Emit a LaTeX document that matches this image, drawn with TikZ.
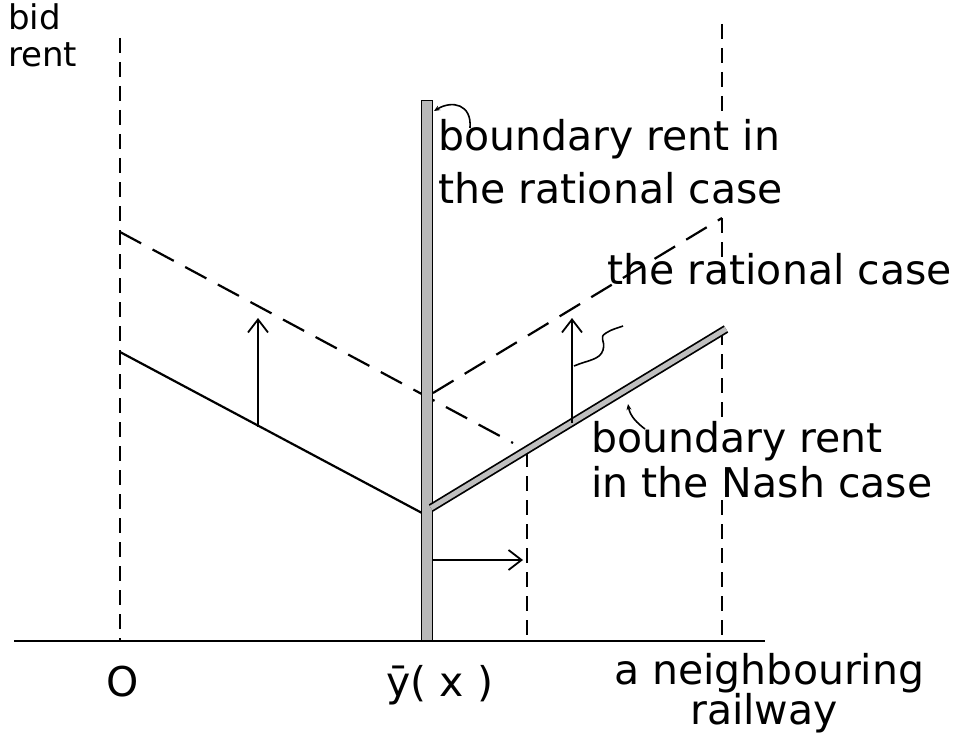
\documentclass[tikz,border=0pt]{standalone}
\usepackage{fontspec}
\setmainfont{DejaVu Sans}
\usetikzlibrary{arrows.meta}
\begin{document}
\begin{tikzpicture}[x=1pt,y=-1pt,
  lbl/.style={font=\fontsize{41}{50}\selectfont, inner sep=0pt, anchor=base west},
  solidln/.style={line width=2.2pt, line cap=round},
  dashln/.style={line width=2.2pt, dash pattern=on 24pt off 13pt},
  vdashln/.style={line width=2pt, dash pattern=on 15pt off 9pt},
  arr/.style={line width=1.8pt, -{Straight Barb[length=13pt,width=20pt,line width=1.8pt]}},
  lead/.style={line width=1.6pt},
  barstyle/.style={fill=gray!55, draw=black, line width=1.4pt}]
\useasboundingbox (0,0) rectangle (969,733);

% coordinates
\coordinate (axL) at (14,641);
\coordinate (axR) at (765,641);
\coordinate (vlT) at (120,38);
\coordinate (vlB) at (120,641);
\coordinate (vmT) at (527,452);
\coordinate (vmB) at (527,641);
\coordinate (sL) at (120,352);
\coordinate (sR) at (422,513);
\coordinate (dL) at (120,232);
\coordinate (dM) at (513,443);
\coordinate (dR0) at (433,393);
\coordinate (dR1) at (722,218);
\coordinate (nL) at (431,508);
\coordinate (nR) at (726,329);

% axis
\draw[line width=2.2pt] (axL) -- (axR);

% dashed verticals
\draw[vdashln] (vlT) -- (vlB);
\draw[vdashln] (vmT) -- (vmB);
\draw[vdashln] (722,24) -- (722,112);
\draw[vdashln] (722,218) -- (722,278);
\draw[vdashln] (722,330) -- (722,420);
\draw[vdashln] (722,500) -- (722,641);

% bid-rent lines
\draw[solidln] (sL) -- (sR);
\draw[dashln] (dL) -- (dM);
\draw[dashln] (dR0) -- (dR1);

% boundary bar
\node[barstyle, minimum width=11pt, minimum height=540pt, inner sep=0pt, anchor=south] (bar) at (427,641) {};

% Nash boundary rent line
\draw[line width=8.5pt, line cap=butt] (nL) -- (nR);
\draw[line width=5pt, gray!50, line cap=butt] (nL) -- (nR);

% arrows
\coordinate (a1t) at (258,427);
\coordinate (a1h) at (258,318);
\coordinate (a2t) at (572,423);
\coordinate (a2h) at (572,318);
\coordinate (a3t) at (433,560);
\coordinate (a3h) at (523,560);
\draw[arr] (a1t) -- (a1h);
\draw[arr] (a2t) -- (a2h);
\draw[arr] (a3t) -- (a3h);

% labels
\node[font=\fontsize{34}{37}\selectfont, inner sep=0pt, align=left, anchor=north west] (bidrent) at (8,3) {bid\\rent};
\node[lbl] (br1) at (438,150) {boundary rent in};
\node[lbl] (br2) at (438,203) {the rational case};
\node[lbl] (rc) at (607,284) {the rational case};
\node[lbl] (nc1) at (591,452) {boundary rent};
\node[lbl] (nc2) at (591,497) {in the Nash case};
\node[lbl, anchor=base] (zero) at (123,696) {O};
\node[lbl, anchor=base] (ybar) at (440,696) {ȳ( x )};
\node[lbl] (nb1) at (614,684) {a neighbouring};
\node[lbl, anchor=base] (nb2) at (764,724) {railway};

% leaders
\coordinate (l1a) at (434,111);
\coordinate (l1b) at (470,128);
\draw[lead, {Stealth[length=6pt,width=5pt]}-] (l1a) .. controls (452,100) and (472,104) .. (l1b);
\coordinate (l2a) at (574,366);
\coordinate (l2b) at (623,326);
\draw[lead] (l2a) .. controls (588,360) and (600,360) .. (603,350)
  .. controls (606,340) and (598,338) .. (606,333) .. controls (612,329) and (618,328) .. (l2b);
\coordinate (l3a) at (628,404);
\coordinate (l3b) at (645,429);
\draw[lead, {Stealth[length=6pt,width=5pt]}-] (l3a) .. controls (630,416) and (637,423) .. (l3b);
\end{tikzpicture}
\end{document}
